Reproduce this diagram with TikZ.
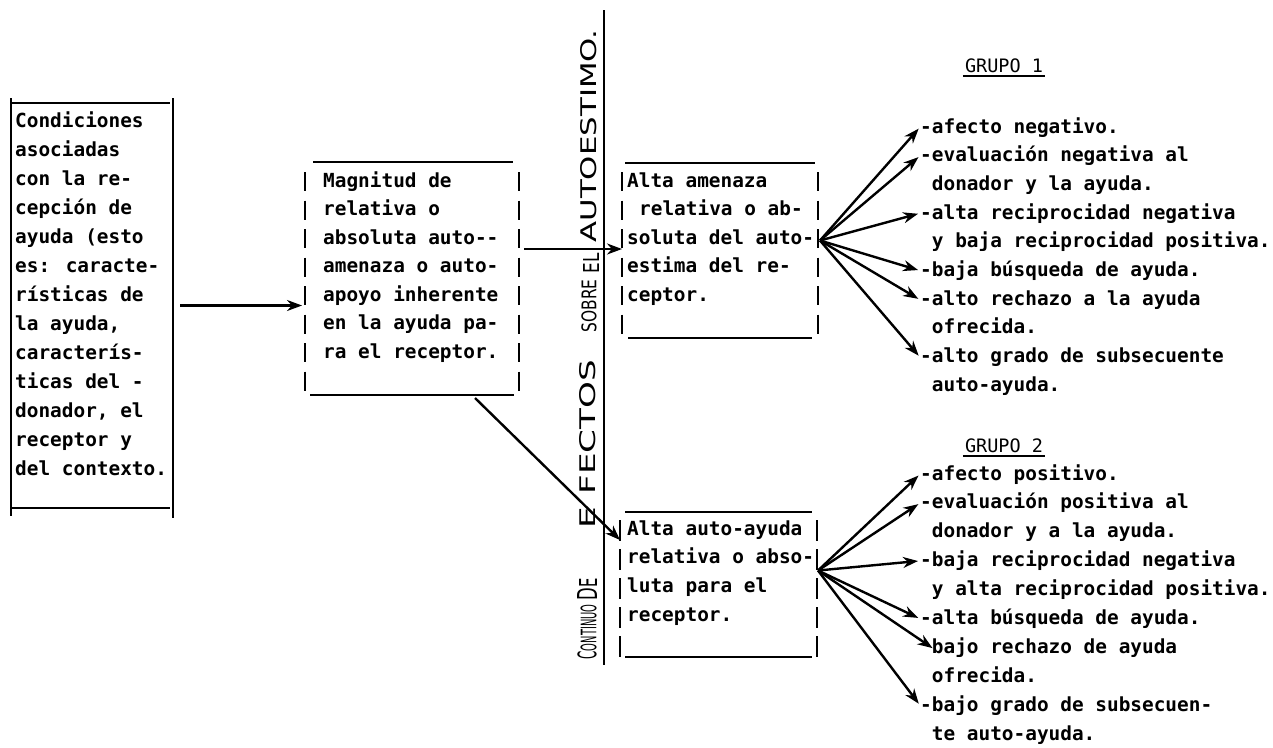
\documentclass[tikz,border=0pt]{standalone}
\usepackage{fontspec}
\usetikzlibrary{arrows.meta,calc}
\newfontfamily\twfam{DejaVu Sans Mono}
\newfontfamily\axfam{DejaVu Sans}
\newcommand\twfont{\twfam\bfseries\fontsize{19.4pt}{29pt}\selectfont}
\newcommand\grfont{\twfam\fontsize{18.5pt}{22pt}\selectfont}
\tikzset{
 tw/.style={font=\twfont, inner sep=0pt, anchor=base west},
 gr/.style={font=\grfont, inner sep=0pt, anchor=base},
 frame/.style={draw=none, inner sep=0pt, outer sep=0pt},
 fl/.style={line width=2.2pt},
 dl/.style={line width=2.2pt, dash pattern=on 19pt off 9.5pt},
 arr/.style={line width=2.4pt, -{Stealth[length=15pt,width=11pt]}},
 ax/.style={rotate=90, inner sep=0pt, font=\axfam},
}
\begin{document}
\begin{tikzpicture}[x=1pt,y=-1pt]
\fill[white] (0,0) rectangle (1273,747);
\useasboundingbox (0,0) rectangle (1273,747);

% ---------- frames ----------
\node[frame, minimum width=162pt, minimum height=405pt] (A) at (92,305.5) {};
\node[frame, minimum width=214pt, minimum height=233pt] (B) at (412,278.5) {};
\node[frame, minimum width=196pt, minimum height=175pt] (C) at (720,250.5) {};
\node[frame, minimum width=197pt, minimum height=145pt] (D) at (718.5,584.5) {};

% box A (solid sides)
\draw[fl] ($(A.north west)+(-1,0)$) -- ($(A.north east)+(-3,0)$);
\draw[fl] ($(A.south west)+(1,0)$) -- ($(A.south east)+(-3,0)$);
\draw[fl] ($(A.north west)+(0,-5)$) -- ($(A.south west)+(0,8)$);
\draw[fl] ($(A.north east)+(0,-5)$) -- ($(A.south east)+(0,10)$);

% box B
\draw[fl] ($(B.north west)+(8,0)$) -- ($(B.north east)+(-6,0)$);
\draw[fl] ($(B.south west)+(5,0)$) -- ($(B.south east)+(-5,0)$);
\draw[dl] ($(B.north west)+(0,10)$) -- ($(B.south west)+(0,2)$);
\draw[dl] ($(B.north east)+(0,10)$) -- ($(B.south east)+(0,2)$);

% box C
\draw[fl] ($(C.north west)+(3,0)$) -- ($(C.north east)+(-3,0)$);
\draw[fl] ($(C.south west)+(6,0)$) -- ($(C.south east)+(-6,0)$);
\draw[dl] ($(C.north west)+(0,9)$) -- ($(C.south west)+(0,1)$);
\draw[dl] ($(C.north east)+(0,9)$) -- ($(C.south east)+(0,1)$);

% box D
\draw[fl] ($(D.north west)+(5,0)$) -- ($(D.north east)+(-5,0)$);
\draw[fl] ($(D.south west)+(5,0)$) -- ($(D.south east)+(-5,0)$);
\draw[fl, dash pattern=on 21pt off 8pt] ($(D.north west)+(0,8)$) -- ($(D.south west)+(0,1)$);
\draw[fl, dash pattern=on 21pt off 8pt] ($(D.north east)+(0,8)$) -- ($(D.south east)+(0,1)$);

% ---------- box texts ----------
\foreach \t [count=\i from 0] in {Condiciones, asociadas, con la re-, cepción de, ayuda (esto, es: caracte-, rísticas de, {la ayuda,}, caracterís-, ticas del -, {donador, el}, receptor y, del contexto.}
  \node[tw] (At\i) at (15,127+29*\i) {\t};

\foreach \t [count=\i from 0] in {Magnitud de, relativa o, absoluta auto-{}-, amenaza o auto-, apoyo inherente, en la ayuda pa-, ra el receptor.}
  \node[tw] (Bt\i) at (323,187+28.5*\i) {\t};

\node[tw] (Ct0) at (627,187) {Alta amenaza};
\node[tw] (Ct1) at (639,215.5) {relativa o ab-};
\node[tw] (Ct2) at (627,244) {soluta del auto-};
\node[tw] (Ct3) at (627,272.5) {estima del re-};
\node[tw] (Ct4) at (627,301) {ceptor.};

\foreach \t [count=\i from 0] in {Alta auto-ayuda, relativa o abso-, luta para el, receptor.}
  \node[tw] (Dt\i) at (627,535+28.8*\i) {\t};

% ---------- axis ----------
\draw[line width=2.4pt] (604,10) -- (604,665);
\node[ax] (w1) at (587,632) {\resizebox{55pt}{19pt}{{\large C}ONTINUO}};
\node[ax] (w2) at (587,589) {\resizebox{22pt}{20pt}{D{\small E}}};
\node[ax] (w3) at (588,444) {\resizebox{168pt}{16pt}{E\hspace{0.35em}FECTOS}};
\node[ax] (w4) at (589,306) {\resizebox{53pt}{15pt}{SOBRE}};
\node[ax] (w5) at (591,263) {\resizebox{20pt}{16pt}{EL}};
\node[ax] (w6) at (589,136) {\resizebox{213pt}{16pt}{AUTOESTIMO.}};

% ---------- group labels ----------
\node[gr] (G1) at (1004,72) {GRUPO 1};
\draw[line width=1.4pt] ($(G1.base west)+(-2,4)$) -- ($(G1.base east)+(2,4)$);
\node[gr] (G2) at (1004,452) {GRUPO 2};
\draw[line width=1.4pt] ($(G2.base west)+(-2,4)$) -- ($(G2.base east)+(2,4)$);

% ---------- group 1 items ----------
\node[tw] (g1a) at (920,133) {-afecto negativo.};
\node[tw] (g1b) at (920,161.7) {-evaluación negativa al};
\node[tw] (g1c) at (931.7,190.4) {donador y la ayuda.};
\node[tw] (g1d) at (920,219.1) {-alta reciprocidad negativa};
\node[tw] (g1e) at (931.7,247.8) {y baja reciprocidad positiva.};
\node[tw] (g1f) at (920,276.5) {-baja búsqueda de ayuda.};
\node[tw] (g1g) at (920,305.2) {-alto rechazo a la ayuda};
\node[tw] (g1h) at (931.7,333.9) {ofrecida.};
\node[tw] (g1i) at (920,362.6) {-alto grado de subsecuente};
\node[tw] (g1j) at (931.7,391.3) {auto-ayuda.};

% ---------- group 2 items ----------
\node[tw] (g2a) at (920,480) {-afecto positivo.};
\node[tw] (g2b) at (920,508.9) {-evaluación positiva al};
\node[tw] (g2c) at (931.7,537.8) {donador y a la ayuda.};
\node[tw] (g2d) at (920,566.7) {-baja reciprocidad negativa};
\node[tw] (g2e) at (931.7,595.6) {y alta reciprocidad positiva.};
\node[tw] (g2f) at (920,624.5) {-alta búsqueda de ayuda.};
\node[tw] (g2g) at (931.7,653.4) {bajo rechazo de ayuda};
\node[tw] (g2h) at (931.7,682.3) {ofrecida.};
\node[tw] (g2i) at (920,711.2) {-bajo grado de subsecuen-};
\node[tw] (g2j) at (931.7,740.1) {te auto-ayuda.};

% ---------- connectors ----------
\draw[arr, shorten <=7pt, shorten >=3pt] (A.east) -- (A.east -| B.west);
\draw[arr, shorten <=5pt] ($(C.west -| B.east)+(0,-1.5)$) -- ($(C.west)+(0,-1.5)$);
\draw[arr] ($(B.south)+(63,3)$) -- ($(D.north west)+(0,28)$);

\coordinate (Cf) at ($(C.east)+(2,-10)$);
\foreach \n in {g1a,g1b,g1d,g1f,g1g,g1i}
  \draw[arr, shorten >=2pt] (Cf) -- (\n.west);

\coordinate (Df) at ($(D.east)+(1,-14)$);
\foreach \n in {g2a,g2b,g2d,g2f,g2i}
  \draw[arr, shorten >=2pt] (Df) -- (\n.west);
\draw[arr, shorten >=-1pt] (Df) -- (g2g.west);
\end{tikzpicture}
\end{document}
